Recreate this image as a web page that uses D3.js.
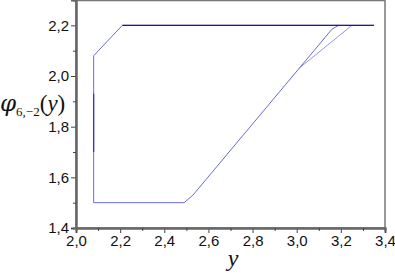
<!DOCTYPE html>
<html><head><meta charset="utf-8">
<script src="https://cdn.jsdelivr.net/npm/d3@7"></script>
<style>body{margin:0;background:#fff}svg{display:block}</style>
</head><body>
<script>
const xTicks = [2.0,2.2,2.4,2.6,2.8,3.0,3.2,3.4];
const yTicks = [1.4,1.6,1.8,2.0,2.2];
const upperCurve = [[2.08,1.5],[2.08,2.08],[2.21,2.2],[3.35,2.2]];
const lowerCurve = [[2.08,1.5],[2.49,1.5],[2.53,1.53],[3.16,2.185],[3.19,2.2]];
const branchCurve = [[3.01,2.03],[3.25,2.2]];
const darkVertical = [[2.08,1.70],[2.08,1.93]];
const darkTop = [[2.21,2.2],[3.35,2.2]];

const W=395,H=273;
const m={l:76,r:385,t:0,b:228};
const svg=d3.select("body").append("svg").attr("width",W).attr("height",H);
const x=d3.scaleLinear().domain([2.0,3.4]).range([m.l,m.r]);
const y=d3.scaleLinear().domain([1.4,2.3]).range([m.b,m.t]);
const fmt=d=>d3.format(".1f")(d).replace(".",",");

// frame
svg.append("rect").attr("x",m.l).attr("y",m.t+0.5).attr("width",m.r-m.l).attr("height",m.b-m.t-0.5)
  .attr("fill","none").attr("stroke","#777").attr("stroke-width",1.5);

const minorX=d3.range(2.1,3.4,0.2);
const minorY=d3.range(1.5,2.3,0.2);
const gx=svg.append("g").attr("transform",`translate(0,${m.b})`)
  .call(d3.axisBottom(x).tickValues(xTicks).tickFormat(fmt).tickSize(5).tickPadding(2));
const gxm=svg.append("g").attr("transform",`translate(0,${m.b})`)
  .call(d3.axisBottom(x).tickValues(minorX).tickFormat("").tickSize(3));
const gy=svg.append("g").attr("transform",`translate(${m.l},0)`)
  .call(d3.axisLeft(y).tickValues(yTicks).tickFormat(fmt).tickSize(5).tickPadding(2));
const gym=svg.append("g").attr("transform",`translate(${m.l},0)`)
  .call(d3.axisLeft(y).tickValues(minorY).tickFormat("").tickSize(3));
[gx,gxm,gy,gym].forEach(g=>{
  g.select(".domain").attr("stroke","#666").attr("stroke-width",2);
  g.selectAll(".tick line").attr("stroke","#444").attr("stroke-width",1);
  g.selectAll("text").attr("font-family","Liberation Sans, Arial, sans-serif").attr("font-size",15).attr("fill","#111");
});

const line=d3.line().x(d=>x(d[0])).y(d=>y(d[1]));
const draw=(data,col,w)=>svg.append("path").datum(data).attr("d",line)
  .attr("fill","none").attr("stroke",col).attr("stroke-width",w);
draw(upperCurve,"#6a6ad8",1);
draw(lowerCurve,"#6a6ad8",1);
draw(branchCurve,"#7a7adc",0.8);
draw(darkVertical,"#2a2ae0",1.2);
draw(darkTop,"#1c1c90",1.2);

// y label
const yl=svg.append("text").attr("x",0).attr("y",111).attr("font-family","DejaVu Serif, Liberation Serif, serif").attr("fill","#111");
yl.append("tspan").attr("font-size",23).attr("font-style","italic").text("φ");
yl.append("tspan").attr("font-size",13).attr("font-family","Liberation Serif, serif").attr("dy",5).text("6,−2");
yl.append("tspan").attr("font-size",23).attr("font-family","Liberation Serif, serif").attr("dy",-5).text("(");
yl.append("tspan").attr("font-size",23).attr("font-family","Liberation Serif, serif").attr("font-style","italic").text("y");
yl.append("tspan").attr("font-size",23).attr("font-family","Liberation Serif, serif").text(")");

svg.append("text").attr("x",233).attr("y",266).attr("text-anchor","middle")
  .attr("font-family","Liberation Serif, serif").attr("font-style","italic").attr("font-size",24).attr("fill","#111").text("y");
</script>
</body></html>
